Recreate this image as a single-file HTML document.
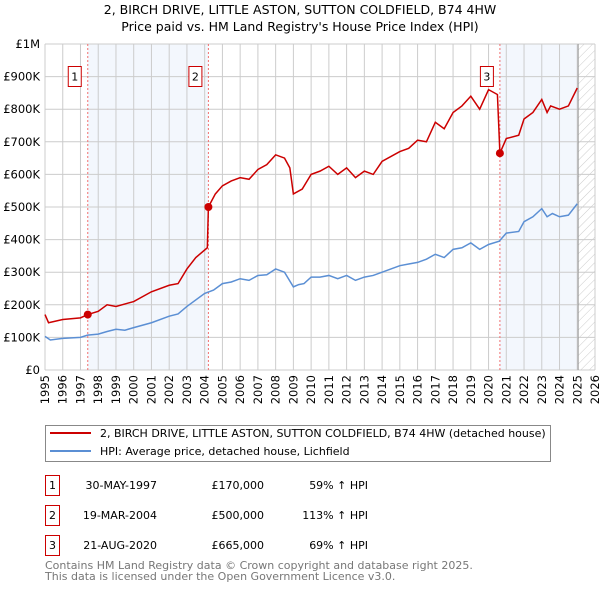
<!DOCTYPE html>
<html><head><meta charset="utf-8"><style>
body{margin:0;background:#fff;font-family:"DejaVu Sans","Liberation Sans",sans-serif;}
svg text{font-family:"DejaVu Sans","Liberation Sans",sans-serif;}
</style></head><body>
<svg id="chart" width="600" height="590" xmlns="http://www.w3.org/2000/svg">
<defs><pattern id="hatch" width="6" height="6" patternUnits="userSpaceOnUse" patternTransform="rotate(45)"><line x1="0" y1="0" x2="0" y2="6" stroke="#ccc" stroke-width="1"/></pattern></defs>
<text x="300" y="14" font-size="12.5" text-anchor="middle">2, BIRCH DRIVE, LITTLE ASTON, SUTTON COLDFIELD, B74 4HW</text>
<text x="300" y="31" font-size="12.5" text-anchor="middle">Price paid vs. HM Land Registry's House Price Index (HPI)</text>
<g id="plot"></g>
<g>
<rect x="45.5" y="425.5" width="505" height="36" fill="#fff" stroke="#888"/>
<line x1="50" y1="433" x2="91" y2="433" stroke="#cc0000" stroke-width="2"/>
<text x="100" y="437" font-size="11">2, BIRCH DRIVE, LITTLE ASTON, SUTTON COLDFIELD, B74 4HW (detached house)</text>
<line x1="50" y1="451" x2="91" y2="451" stroke="#5b8fd4" stroke-width="2"/>
<text x="100" y="455" font-size="11">HPI: Average price, detached house, Lichfield</text>
</g>
<g font-size="11">
<rect x="45.5" y="475.5" width="14" height="20" fill="#fff" stroke="#cc0000"/><text x="52.5" y="489" text-anchor="middle">1</text>
<text x="157" y="489" text-anchor="end">30-MAY-1997</text><text x="264" y="489" text-anchor="end">£170,000</text><text x="368" y="489" text-anchor="end">59% ↑ HPI</text>
<rect x="45.5" y="505.5" width="14" height="20" fill="#fff" stroke="#cc0000"/><text x="52.5" y="519" text-anchor="middle">2</text>
<text x="157" y="519" text-anchor="end">19-MAR-2004</text><text x="264" y="519" text-anchor="end">£500,000</text><text x="368" y="519" text-anchor="end">113% ↑ HPI</text>
<rect x="45.5" y="535.5" width="14" height="20" fill="#fff" stroke="#cc0000"/><text x="52.5" y="549" text-anchor="middle">3</text>
<text x="157" y="549" text-anchor="end">21-AUG-2020</text><text x="264" y="549" text-anchor="end">£665,000</text><text x="368" y="549" text-anchor="end">69% ↑ HPI</text>
</g>
<text x="45" y="569" font-size="11" fill="#777">Contains HM Land Registry data © Crown copyright and database right 2025.</text>
<text x="45" y="580" font-size="11" fill="#777">This data is licensed under the Open Government Licence v3.0.</text>
</svg>
<script>
const yTicks=[0,100,200,300,400,500,600,700,800,900,1000];
const yLabels=["£0","£100K","£200K","£300K","£400K","£500K","£600K","£700K","£800K","£900K","£1M"];
const xYears=[1995,1996,1997,1998,1999,2000,2001,2002,2003,2004,2005,2006,2007,2008,2009,2010,2011,2012,2013,2014,2015,2016,2017,2018,2019,2020,2021,2022,2023,2024,2025,2026];
const hpiT=[1995,1995.3,1996,1997,1997.4,1998,1998.5,1999,1999.5,2000,2001,2002,2002.5,2003,2004,2004.5,2005,2005.5,2006,2006.5,2007,2007.5,2008,2008.5,2009,2009.3,2009.6,2010,2010.5,2011,2011.5,2012,2012.5,2013,2013.5,2014,2014.5,2015,2015.5,2016,2016.5,2017,2017.5,2018,2018.5,2019,2019.5,2020,2020.6,2021,2021.7,2022,2022.5,2023,2023.3,2023.6,2024,2024.5,2025];
const hpiV=[103,92,97,100,107,110,118,125,122,130,145,165,172,195,235,245,265,270,280,275,290,292,310,300,255,262,265,285,285,290,280,290,275,285,290,300,310,320,325,330,340,355,345,370,375,390,370,385,395,420,425,455,470,495,470,480,470,475,510];
const ppT=[1995,1995.2,1996,1997,1997.41,1998,1998.5,1999,2000,2001,2002,2002.5,2003,2003.5,2004.15,2004.21,2004.6,2005,2005.5,2006,2006.5,2007,2007.5,2008,2008.5,2008.8,2009,2009.5,2010,2010.5,2011,2011.5,2012,2012.5,2013,2013.5,2014,2015,2015.5,2016,2016.5,2017,2017.5,2018,2018.5,2019,2019.5,2020,2020.5,2020.64,2021,2021.7,2022,2022.5,2023,2023.3,2023.5,2024,2024.5,2025];
const ppV=[170,145,155,160,170,180,200,195,210,240,260,265,310,345,375,500,540,565,580,590,585,615,630,660,650,620,540,555,600,610,625,600,620,590,610,600,640,670,680,705,700,760,740,790,810,840,800,860,845,665,710,720,770,790,830,790,810,800,810,865];
const saleT=[1997.41,2004.21,2020.64];
const saleV=[170,500,665];
const X0=45,X1=595,Y0=370,Y1=44;
const xs=t=>X0+(t-1995)/(2026-1995)*(X1-X0);
const ys=v=>Y0-v/1000*(Y0-Y1);
const NS="http://www.w3.org/2000/svg";
const g=document.getElementById('plot');
function mk(tag,attrs,parent){const e=document.createElementNS(NS,tag);for(const k in attrs)e.setAttribute(k,attrs[k]);(parent||g).appendChild(e);return e;}
let e;
e=mk('rect',{x:xs(saleT[0]),y:Y1,width:xs(saleT[1])-xs(saleT[0]),height:Y0-Y1,fill:'#eef3fc',opacity:0.7});


e=mk('rect',{x:xs(saleT[2]),y:Y1,width:xs(2025.05)-xs(saleT[2]),height:Y0-Y1,fill:'#eef3fc',opacity:0.7});


e=mk('rect',{x:xs(2025.05),y:Y1,width:X1-xs(2025.05),height:Y0-Y1,fill:'url(#hatch)'});


yTicks.forEach((v,i)=>{
 e=mk('line',{x1:X0,x2:X1,y1:ys(v),y2:ys(v),stroke:'#ccc'});
 
 
 e=mk('text',{x:40,y:ys(v)+4,'font-size':11.5,'text-anchor':'end'});e.textContent=yLabels[i];
 
 
});
xYears.forEach(t=>{
 e=mk('line',{x1:xs(t),x2:xs(t),y1:Y1,y2:Y0,stroke:'#ccc'});
 
 
 e=mk('text',{x:0,y:0,'font-size':11.5,'text-anchor':'end',transform:`translate(${xs(t)+4},375) rotate(-90)`});e.textContent=t;
 
 
});
e=mk('line',{x1:xs(2025.05),x2:xs(2025.05),y1:Y1,y2:Y0,stroke:'#999'});


saleT.forEach((t,i)=>{
 e=mk('line',{x1:xs(t),x2:xs(t),y1:Y1,y2:Y0,stroke:'#f07070','stroke-dasharray':'2,2'});
 
 
 e=mk('rect',{x:xs(t)-19.5,y:66.5,width:13,height:20,fill:'#fff',stroke:'#cc0000'});
 
 
 e=mk('text',{x:xs(t)-13,y:80.5,'font-size':11,'text-anchor':'middle'});e.textContent=i+1;
 
 
});
e=mk('polyline',{points:hpiT.map((t,i)=>xs(t)+','+ys(hpiV[i])).join(' '),fill:'none',stroke:'#5b8fd4','stroke-width':1.5});


e=mk('polyline',{points:ppT.map((t,i)=>xs(t)+','+ys(ppV[i])).join(' '),fill:'none',stroke:'#cc0000','stroke-width':1.5});


saleT.forEach((t,i)=>{
 e=mk('circle',{cx:xs(t),cy:ys(saleV[i]),r:4,fill:'#cc0000'});
 
 
});
</script>
</body></html>
